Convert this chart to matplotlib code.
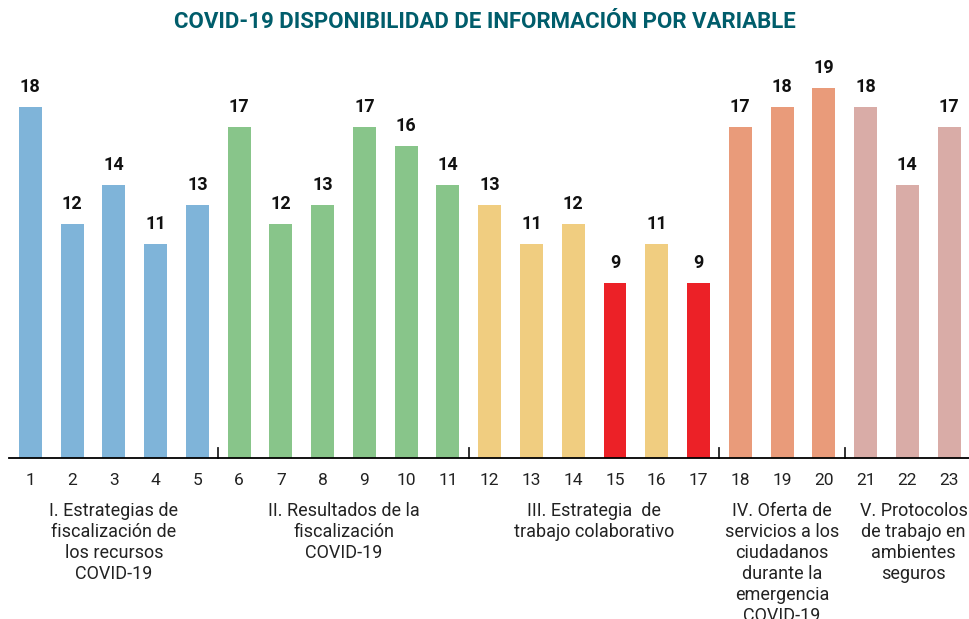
import matplotlib.pyplot as plt

# Data
variables = list(range(1, 24))
values = [18, 12, 14, 11, 13, 17, 12, 13, 17, 16, 14, 13, 11, 12, 9, 11, 9, 17, 18, 19, 18, 14, 17]
groups = ["I", "I", "I", "I", "I", "II", "II", "II", "II", "II", "II",
          "III", "III", "III", "III", "III", "III", "IV", "IV", "IV", "V", "V", "V"]
highlight = [15, 17]
group_labels = {
    "I": "I. Estrategias de\nfiscalización de\nlos recursos\nCOVID-19",
    "II": "II. Resultados de la\nfiscalización\nCOVID-19",
    "III": "III. Estrategia  de\ntrabajo colaborativo",
    "IV": "IV. Oferta de\nservicios a los\nciudadanos\ndurante la\nemergencia\nCOVID-19",
    "V": "V. Protocolos\nde trabajo en\nambientes\nseguros",
}
group_colors = {"I": "#7fb4d9", "II": "#88c58a", "III": "#f0cd80",
                "IV": "#e99b7a", "V": "#d9aca7"}
red = "#ec2127"

plt.rcParams['font.family'] = ['Roboto', 'DejaVu Sans']

fig = plt.figure(figsize=(9.7, 6.19), dpi=100)
ax = fig.add_axes([9 / 970, 1 - 458 / 619, 1 - 9 / 970, 390 / 619])

colors = [red if v in highlight else group_colors[g] for v, g in zip(variables, groups)]
bars = ax.bar(variables, values, width=0.55, color=colors)

# value labels
for bar, val in zip(bars, values):
    ax.text(bar.get_x() + bar.get_width() / 2, val + 0.55, str(val),
            ha="center", va="bottom", fontsize=13, fontweight="bold", color="#111111")

ax.set_xlim(0.49, 23.5)
ax.set_ylim(0, 20)
for s in ["top", "right", "left"]:
    ax.spines[s].set_visible(False)
ax.spines["bottom"].set_linewidth(1.3)
ax.set_yticks([])
ax.set_xticks(variables)
ax.tick_params(axis="x", length=0, pad=11, labelsize=12.5, labelcolor="#222222")

# group separators and labels
order = ["I", "II", "III", "IV", "V"]
for i, g in enumerate(order):
    xs = [v for v, gg in zip(variables, groups) if gg == g]
    if i > 0:
        sep = xs[0] - 0.5
        ax.plot([sep, sep], [0, 0.5], color="#222222", lw=1.3, clip_on=False)
    xc = (xs[0] + xs[-1]) / 2
    if g == "V":
        xc += 0.15
    ax.text(xc, -0.113, group_labels[g], transform=ax.get_xaxis_transform(),
            ha="center", va="top", fontsize=13, color="#222222", linespacing=1.22)

fig.text(0.5, 0.965, "COVID-19 DISPONIBILIDAD DE INFORMACIÓN POR VARIABLE",
         ha="center", va="center", fontsize=16, fontweight="bold", color="#005d6b")

fig.savefig("out.png", dpi=100)
